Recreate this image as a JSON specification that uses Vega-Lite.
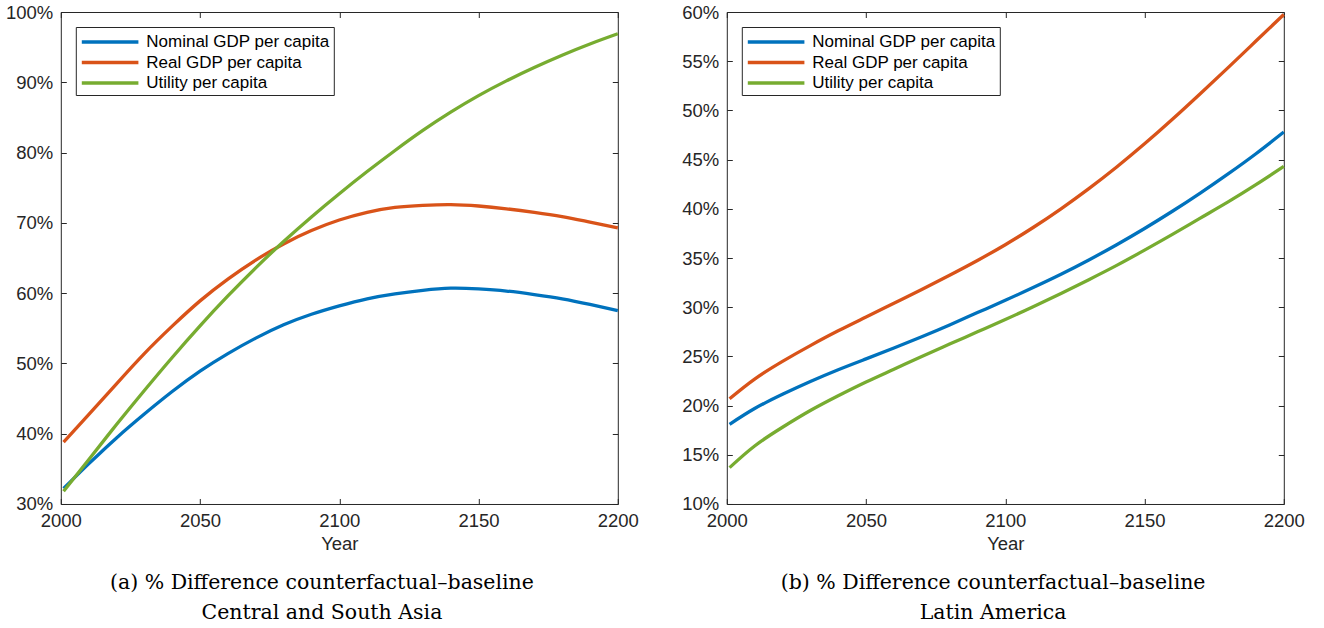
{
  "$schema": "https://vega.github.io/schema/vega-lite/v6.json",
  "padding": {"left": 4.8, "top": 3, "right": 0, "bottom": 0},
  "config": {
    "background": "white",
    "view": {"stroke": null},
    "font": "Liberation Sans",
    "axis": {
      "grid": false,
      "domainColor": "#262626", "domainWidth": 1,
      "tickColor": "#262626", "tickSize": -5.5, "tickWidth": 1,
      "labelFont": "Liberation Sans", "labelFontSize": 18.5, "labelColor": "#262626",
      "labelPadding": 13.5, "labelFlush": false, "labelOverlap": false,
      "titleFont": "Liberation Sans", "titleFontSize": 18.5, "titleColor": "#262626", "titleFontWeight": "normal"
    },
    "legend": {
      "orient": "top-left", "offset": 15, "padding": 4,
      "strokeColor": "#262626", "fillColor": "white",
      "labelFont": "Liberation Sans", "labelFontSize": 17, "labelColor": "#000000", "labelLimit": 0,
      "symbolType": "M-1,0L5.29,0", "symbolSize": 324, "symbolStrokeWidth": 3.3,
      "labelOffset": 44.5, "rowPadding": 1.5
    },
    "title": {"font": "DejaVu Serif", "fontSize": 20.5, "fontWeight": "normal", "color": "#000000", "lineHeight": 30}
  },
  "datasets": {
    "asia": [
      {"year": 2001, "series": "Nominal GDP per capita", "value": 32.2},
      {"year": 2010, "series": "Nominal GDP per capita", "value": 35.7},
      {"year": 2020, "series": "Nominal GDP per capita", "value": 39.4},
      {"year": 2030, "series": "Nominal GDP per capita", "value": 42.8},
      {"year": 2040, "series": "Nominal GDP per capita", "value": 46.0},
      {"year": 2050, "series": "Nominal GDP per capita", "value": 48.9},
      {"year": 2060, "series": "Nominal GDP per capita", "value": 51.4},
      {"year": 2070, "series": "Nominal GDP per capita", "value": 53.6},
      {"year": 2080, "series": "Nominal GDP per capita", "value": 55.5},
      {"year": 2090, "series": "Nominal GDP per capita", "value": 57.0},
      {"year": 2100, "series": "Nominal GDP per capita", "value": 58.2},
      {"year": 2110, "series": "Nominal GDP per capita", "value": 59.2},
      {"year": 2120, "series": "Nominal GDP per capita", "value": 59.9},
      {"year": 2130, "series": "Nominal GDP per capita", "value": 60.4},
      {"year": 2140, "series": "Nominal GDP per capita", "value": 60.7},
      {"year": 2150, "series": "Nominal GDP per capita", "value": 60.6},
      {"year": 2160, "series": "Nominal GDP per capita", "value": 60.3},
      {"year": 2170, "series": "Nominal GDP per capita", "value": 59.8},
      {"year": 2180, "series": "Nominal GDP per capita", "value": 59.2},
      {"year": 2190, "series": "Nominal GDP per capita", "value": 58.4},
      {"year": 2200, "series": "Nominal GDP per capita", "value": 57.5},
      {"year": 2001, "series": "Real GDP per capita", "value": 38.8},
      {"year": 2010, "series": "Real GDP per capita", "value": 42.7},
      {"year": 2020, "series": "Real GDP per capita", "value": 47.1},
      {"year": 2030, "series": "Real GDP per capita", "value": 51.4},
      {"year": 2040, "series": "Real GDP per capita", "value": 55.3},
      {"year": 2050, "series": "Real GDP per capita", "value": 58.9},
      {"year": 2060, "series": "Real GDP per capita", "value": 62.0},
      {"year": 2070, "series": "Real GDP per capita", "value": 64.7},
      {"year": 2080, "series": "Real GDP per capita", "value": 67.0},
      {"year": 2090, "series": "Real GDP per capita", "value": 68.9},
      {"year": 2100, "series": "Real GDP per capita", "value": 70.4},
      {"year": 2110, "series": "Real GDP per capita", "value": 71.5},
      {"year": 2120, "series": "Real GDP per capita", "value": 72.2},
      {"year": 2130, "series": "Real GDP per capita", "value": 72.5},
      {"year": 2140, "series": "Real GDP per capita", "value": 72.6},
      {"year": 2150, "series": "Real GDP per capita", "value": 72.4},
      {"year": 2160, "series": "Real GDP per capita", "value": 72.0},
      {"year": 2170, "series": "Real GDP per capita", "value": 71.5},
      {"year": 2180, "series": "Real GDP per capita", "value": 70.9},
      {"year": 2190, "series": "Real GDP per capita", "value": 70.1},
      {"year": 2200, "series": "Real GDP per capita", "value": 69.3},
      {"year": 2001, "series": "Utility per capita", "value": 31.8},
      {"year": 2010, "series": "Utility per capita", "value": 36.3},
      {"year": 2020, "series": "Utility per capita", "value": 41.3},
      {"year": 2030, "series": "Utility per capita", "value": 46.15},
      {"year": 2040, "series": "Utility per capita", "value": 50.85},
      {"year": 2050, "series": "Utility per capita", "value": 55.35},
      {"year": 2060, "series": "Utility per capita", "value": 59.6},
      {"year": 2070, "series": "Utility per capita", "value": 63.6},
      {"year": 2080, "series": "Utility per capita", "value": 67.35},
      {"year": 2090, "series": "Utility per capita", "value": 70.85},
      {"year": 2100, "series": "Utility per capita", "value": 74.15},
      {"year": 2110, "series": "Utility per capita", "value": 77.3},
      {"year": 2120, "series": "Utility per capita", "value": 80.3},
      {"year": 2130, "series": "Utility per capita", "value": 83.15},
      {"year": 2140, "series": "Utility per capita", "value": 85.75},
      {"year": 2150, "series": "Utility per capita", "value": 88.1},
      {"year": 2160, "series": "Utility per capita", "value": 90.2},
      {"year": 2170, "series": "Utility per capita", "value": 92.1},
      {"year": 2180, "series": "Utility per capita", "value": 93.85},
      {"year": 2190, "series": "Utility per capita", "value": 95.45},
      {"year": 2200, "series": "Utility per capita", "value": 96.9}
    ],
    "latam": [
      {"year": 2001, "series": "Nominal GDP per capita", "value": 18.1},
      {"year": 2010, "series": "Nominal GDP per capita", "value": 19.7},
      {"year": 2020, "series": "Nominal GDP per capita", "value": 21.15},
      {"year": 2030, "series": "Nominal GDP per capita", "value": 22.45},
      {"year": 2040, "series": "Nominal GDP per capita", "value": 23.65},
      {"year": 2050, "series": "Nominal GDP per capita", "value": 24.75},
      {"year": 2060, "series": "Nominal GDP per capita", "value": 25.85},
      {"year": 2070, "series": "Nominal GDP per capita", "value": 27.0},
      {"year": 2080, "series": "Nominal GDP per capita", "value": 28.2},
      {"year": 2090, "series": "Nominal GDP per capita", "value": 29.45},
      {"year": 2100, "series": "Nominal GDP per capita", "value": 30.7},
      {"year": 2110, "series": "Nominal GDP per capita", "value": 32.0},
      {"year": 2120, "series": "Nominal GDP per capita", "value": 33.35},
      {"year": 2130, "series": "Nominal GDP per capita", "value": 34.8},
      {"year": 2140, "series": "Nominal GDP per capita", "value": 36.35},
      {"year": 2150, "series": "Nominal GDP per capita", "value": 38.0},
      {"year": 2160, "series": "Nominal GDP per capita", "value": 39.75},
      {"year": 2170, "series": "Nominal GDP per capita", "value": 41.6},
      {"year": 2180, "series": "Nominal GDP per capita", "value": 43.55},
      {"year": 2190, "series": "Nominal GDP per capita", "value": 45.6},
      {"year": 2200, "series": "Nominal GDP per capita", "value": 47.8},
      {"year": 2001, "series": "Real GDP per capita", "value": 20.7},
      {"year": 2010, "series": "Real GDP per capita", "value": 22.7},
      {"year": 2020, "series": "Real GDP per capita", "value": 24.5},
      {"year": 2030, "series": "Real GDP per capita", "value": 26.1},
      {"year": 2040, "series": "Real GDP per capita", "value": 27.6},
      {"year": 2050, "series": "Real GDP per capita", "value": 29.0},
      {"year": 2060, "series": "Real GDP per capita", "value": 30.4},
      {"year": 2070, "series": "Real GDP per capita", "value": 31.8},
      {"year": 2080, "series": "Real GDP per capita", "value": 33.25},
      {"year": 2090, "series": "Real GDP per capita", "value": 34.75},
      {"year": 2100, "series": "Real GDP per capita", "value": 36.35},
      {"year": 2110, "series": "Real GDP per capita", "value": 38.1},
      {"year": 2120, "series": "Real GDP per capita", "value": 40.0},
      {"year": 2130, "series": "Real GDP per capita", "value": 42.05},
      {"year": 2140, "series": "Real GDP per capita", "value": 44.25},
      {"year": 2150, "series": "Real GDP per capita", "value": 46.6},
      {"year": 2160, "series": "Real GDP per capita", "value": 49.1},
      {"year": 2170, "series": "Real GDP per capita", "value": 51.7},
      {"year": 2180, "series": "Real GDP per capita", "value": 54.35},
      {"year": 2190, "series": "Real GDP per capita", "value": 57.05},
      {"year": 2200, "series": "Real GDP per capita", "value": 59.75},
      {"year": 2001, "series": "Utility per capita", "value": 13.7},
      {"year": 2010, "series": "Utility per capita", "value": 15.9},
      {"year": 2020, "series": "Utility per capita", "value": 17.8},
      {"year": 2030, "series": "Utility per capita", "value": 19.5},
      {"year": 2040, "series": "Utility per capita", "value": 21.0},
      {"year": 2050, "series": "Utility per capita", "value": 22.4},
      {"year": 2060, "series": "Utility per capita", "value": 23.7},
      {"year": 2070, "series": "Utility per capita", "value": 25.0},
      {"year": 2080, "series": "Utility per capita", "value": 26.25},
      {"year": 2090, "series": "Utility per capita", "value": 27.5},
      {"year": 2100, "series": "Utility per capita", "value": 28.75},
      {"year": 2110, "series": "Utility per capita", "value": 30.05},
      {"year": 2120, "series": "Utility per capita", "value": 31.4},
      {"year": 2130, "series": "Utility per capita", "value": 32.8},
      {"year": 2140, "series": "Utility per capita", "value": 34.25},
      {"year": 2150, "series": "Utility per capita", "value": 35.8},
      {"year": 2160, "series": "Utility per capita", "value": 37.4},
      {"year": 2170, "series": "Utility per capita", "value": 39.05},
      {"year": 2180, "series": "Utility per capita", "value": 40.7},
      {"year": 2190, "series": "Utility per capita", "value": 42.45},
      {"year": 2200, "series": "Utility per capita", "value": 44.3}
    ]
  },
  "spacing": 109,
  "bounds": "flush",
  "resolve": {"legend": {"color": "independent"}, "scale": {"x": "independent", "y": "independent"}},
  "hconcat": [
    {
      "width": 557,
      "height": 492,
      "data": {"name": "asia"},
      "title": {"text": ["(a) % Difference counterfactual–baseline", "Central and South Asia"], "orient": "bottom", "anchor": "middle", "frame": "bounds", "offset": 20},
      "layer": [
        {
          "mark": {"type": "line", "strokeWidth": 3.3, "interpolate": "natural"},
          "encoding": {
            "x": {"field": "year", "type": "quantitative", "scale": {"domain": [2000, 2200], "nice": false},
                  "axis": {"title": "Year", "values": [2000, 2050, 2100, 2150, 2200], "format": "d"}},
            "y": {"field": "value", "type": "quantitative", "scale": {"domain": [30, 100], "nice": false, "zero": false},
                  "axis": {"title": null, "values": [30, 40, 50, 60, 70, 80, 90, 100], "labelExpr": "datum.value + '%'"}},
            "color": {"field": "series", "type": "nominal",
                      "scale": {"domain": ["Nominal GDP per capita", "Real GDP per capita", "Utility per capita"], "range": ["#0072BD", "#D95319", "#77AC30"]},
                      "legend": {"title": null}}
          }
        },
        {
          "mark": {"type": "line", "opacity": 0},
          "encoding": {
            "x": {"field": "year", "type": "quantitative",
                  "axis": {"orient": "top", "title": null, "labels": false, "values": [2000, 2050, 2100, 2150, 2200]}},
            "y": {"field": "value", "type": "quantitative",
                  "axis": {"orient": "right", "title": null, "labels": false, "values": [30, 40, 50, 60, 70, 80, 90, 100]}}
          }
        }
      ],
      "resolve": {"axis": {"x": "independent", "y": "independent"}}
    },
    {
      "width": 557,
      "height": 492,
      "data": {"name": "latam"},
      "title": {"text": ["(b) % Difference counterfactual–baseline", "Latin America"], "orient": "bottom", "anchor": "middle", "frame": "bounds", "offset": 20},
      "layer": [
        {
          "mark": {"type": "line", "strokeWidth": 3.3, "interpolate": "natural"},
          "encoding": {
            "x": {"field": "year", "type": "quantitative", "scale": {"domain": [2000, 2200], "nice": false},
                  "axis": {"title": "Year", "values": [2000, 2050, 2100, 2150, 2200], "format": "d"}},
            "y": {"field": "value", "type": "quantitative", "scale": {"domain": [10, 60], "nice": false, "zero": false},
                  "axis": {"title": null, "values": [10, 15, 20, 25, 30, 35, 40, 45, 50, 55, 60], "labelExpr": "datum.value + '%'"}},
            "color": {"field": "series", "type": "nominal",
                      "scale": {"domain": ["Nominal GDP per capita", "Real GDP per capita", "Utility per capita"], "range": ["#0072BD", "#D95319", "#77AC30"]},
                      "legend": {"title": null}}
          }
        },
        {
          "mark": {"type": "line", "opacity": 0},
          "encoding": {
            "x": {"field": "year", "type": "quantitative",
                  "axis": {"orient": "top", "title": null, "labels": false, "values": [2000, 2050, 2100, 2150, 2200]}},
            "y": {"field": "value", "type": "quantitative",
                  "axis": {"orient": "right", "title": null, "labels": false, "values": [10, 15, 20, 25, 30, 35, 40, 45, 50, 55, 60]}}
          }
        }
      ],
      "resolve": {"axis": {"x": "independent", "y": "independent"}}
    }
  ]
}
